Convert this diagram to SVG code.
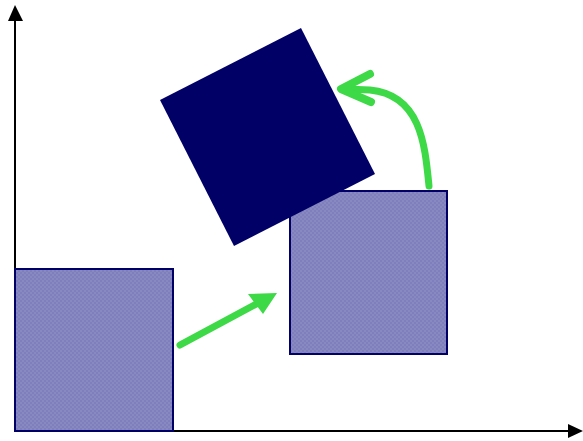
<svg xmlns="http://www.w3.org/2000/svg" width="583" height="441" viewBox="0 0 583 441">
<defs>
<pattern id="chk" width="4" height="4" patternUnits="userSpaceOnUse">
<rect width="4" height="4" fill="#8888c2"/>
<rect width="2" height="2" fill="#7f7fbb"/>
<rect x="2" y="2" width="2" height="2" fill="#7f7fbb"/>
</pattern>
<marker id="ah" markerWidth="10" markerHeight="10" refX="8" refY="5" orient="auto" markerUnits="userSpaceOnUse" viewBox="0 0 10 10">
<path d="M0,0 L10,5 L0,10 z" fill="#000"/>
</marker>
</defs>
<style>
.axis{stroke:#000;stroke-width:2;fill:none}
.sq{fill:url(#chk);stroke:#000066;stroke-width:2}
.green{stroke:#3dd946;fill:none;stroke-linecap:round;stroke-linejoin:round}
</style>
<g id="axes">
<line class="axis" x1="15" y1="432" x2="15" y2="20"/>
<polygon points="15,5 8,21 23,21" fill="#000"/>
<line class="axis" x1="14" y1="431" x2="568" y2="431"/>
<polygon points="583,431 568,424 568,438" fill="#000"/>
</g>
<g id="square-left">
<rect class="sq" x="15" y="269" width="158" height="162"/>
</g>
<g id="square-middle">
<rect class="sq" x="290" y="191" width="157" height="163"/>
</g>
<g id="square-rotated">
<polygon points="160,100 301,28 375,174 234,246" fill="#000066"/>
</g>
<g id="connectors">
<line class="green" x1="180" y1="345" x2="260" y2="302" stroke-width="7" stroke-linecap="butt"/>
<polygon points="277,293 248,294 263,314" fill="#3dd946"/>
<path class="green" d="M429,186 C425,145 421,95 370,90 L345,89" stroke-width="7" stroke-linecap="butt"/>
<path class="green" d="M370,74 L341,89 L371,102" stroke-width="8"/>
</g>
</svg>
